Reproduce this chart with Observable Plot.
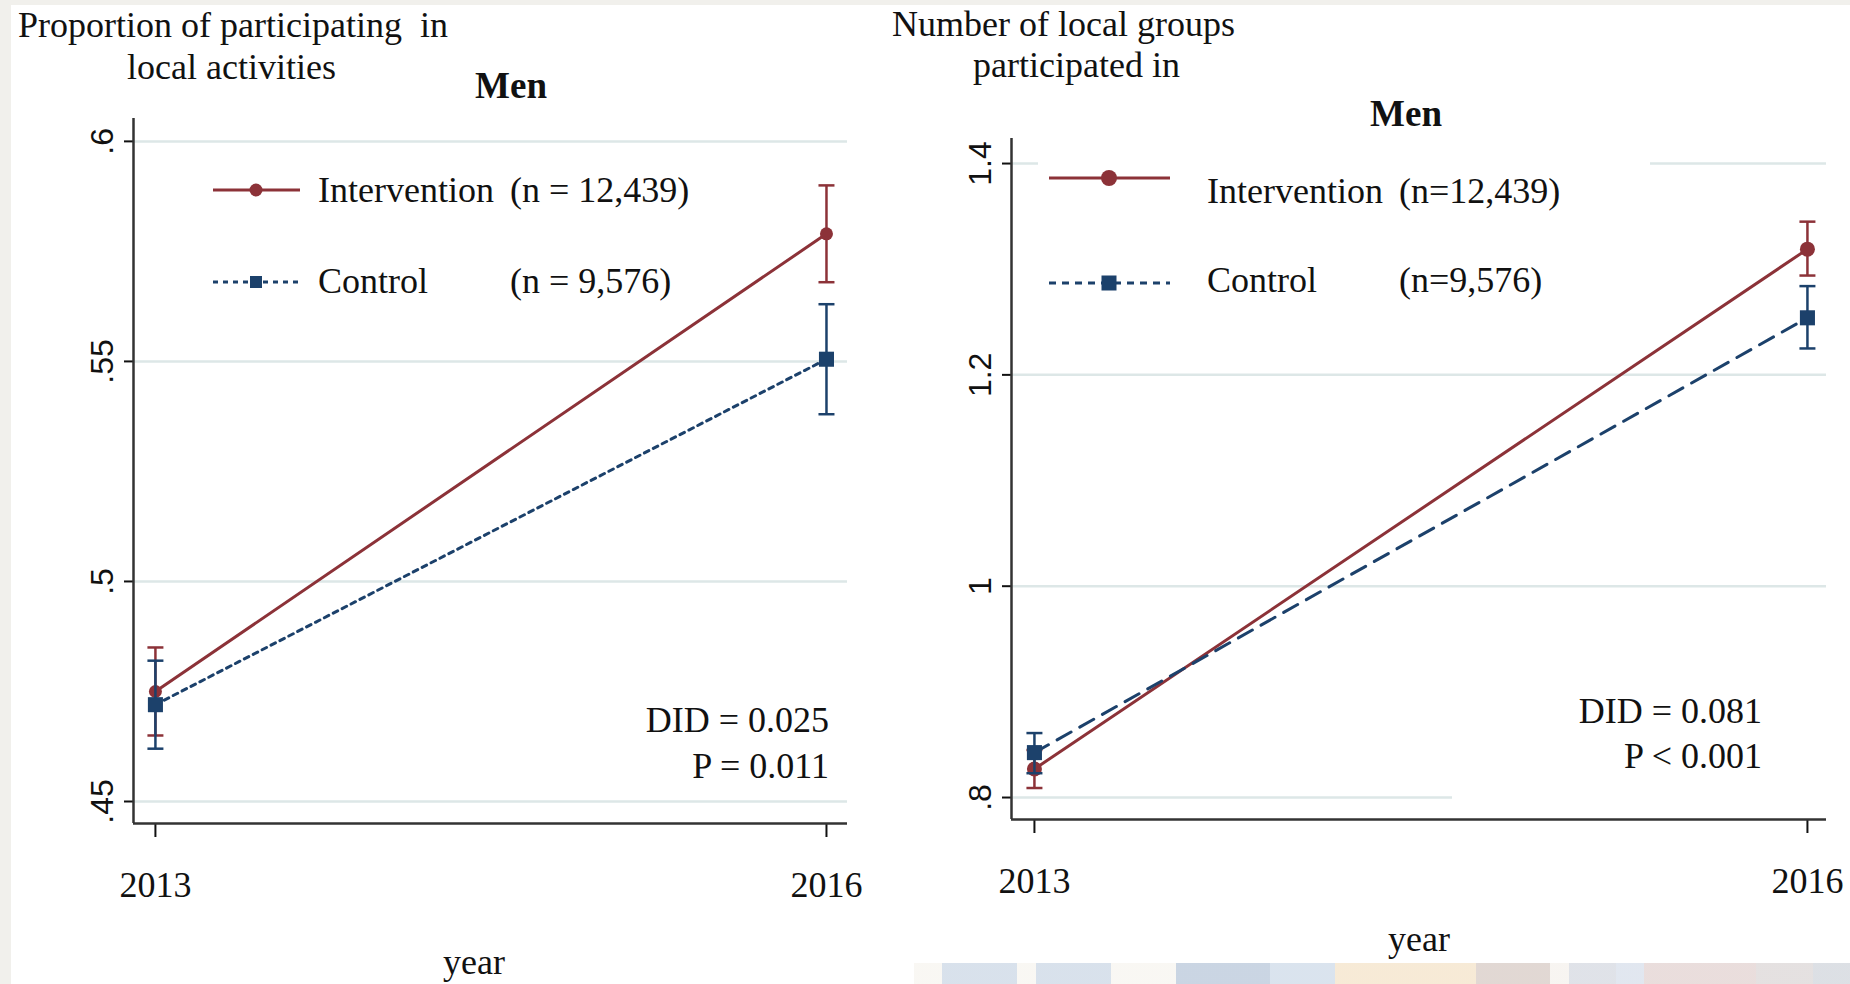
<!DOCTYPE html>
<html>
<head>
<meta charset="utf-8">
<script src="https://cdn.jsdelivr.net/npm/d3@7"></script>
<script src="https://cdn.jsdelivr.net/npm/@observablehq/plot@0.6"></script>
<style>
  html, body { margin: 0; padding: 0; background: #fff; }
  #page { position: relative; width: 1850px; height: 984px; overflow: hidden; background: #fff;
          font-family: "Liberation Serif", "Times New Roman", serif; }
  .panel { position: absolute; top: 0; }
  #left { left: 0; }
  #right { left: 925px; }
  #overlay { position: absolute; left: 0; top: 0; pointer-events: none; }
  .band-top { position: absolute; left: 0; top: 0; width: 1850px; height: 5px; background: #f1f0ec; }
  .band-left { position: absolute; left: 0; top: 0; width: 11px; height: 984px; background: #f1f0ec; }
  .band-bottom { position: absolute; left: 914px; top: 963px; width: 936px; height: 21px; opacity: 0.55;
    background: linear-gradient(90deg, #f4f1ea 0 3%, #b9c9dc 3% 11%, #f4f1ea 11% 13%, #b9c9dc 13% 21%,
      #f4f1ea 21% 28%, #9fb3cc 28% 38%, #bccde0 38% 45%, #f0d9b5 45% 60%, #c9b8b0 60% 68%, #f1ece6 68% 70%,
      #c6cbd6 70% 75%, #c9d3e3 75% 78%, #d8c2c0 78% 90%, #cfc8c8 90% 96%, #c0c6cf 96% 100%); }
</style>
</head>
<body>
<div id="page">
  <div class="band-top"></div>
  <div class="band-left"></div>
  <div class="band-bottom"></div>
  <div id="left" class="panel"></div>
  <div id="right" class="panel"></div>
</div>
<script>
// Survey years on the x axis
const years = [2013, 2016];
const groupNames = ["Intervention", "Control"];

// Left panel: proportion participating in local activities (means with 95% CI)
const propIntervention   = [0.475, 0.579];
const propInterventionLo = [0.465, 0.568];
const propInterventionHi = [0.485, 0.590];
const propControl        = [0.472, 0.5505];
const propControlLo      = [0.462, 0.538];
const propControlHi      = [0.482, 0.563];
const propTicks = [0.45, 0.5, 0.55, 0.6];

// Right panel: number of local groups participated in (means with 95% CI)
const numIntervention   = [0.827, 1.319];
const numInterventionLo = [0.809, 1.294];
const numInterventionHi = [0.845, 1.345];
const numControl        = [0.8425, 1.254];
const numControlLo      = [0.823, 1.225];
const numControlHi      = [0.861, 1.284];
const numTicks = [0.8, 1, 1.2, 1.4];

// Text shown on each panel
const leftTitle  = ["Proportion of participating\u00a0 in", "local activities"];
const rightTitle = ["Number of local groups", "participated in"];
const subgroup = "Men";
const leftN  = ["(n = 12,439)", "(n = 9,576)"];
const rightN = ["(n=12,439)", "(n=9,576)"];
const leftStats  = ["DID = 0.025", "P = 0.011"];
const rightStats = ["DID = 0.081", "P < 0.001"];
const xTitle = "year";

const maroon = "#8c3238";
const navy = "#1c416b";
const gridColor = "#dde7e7";
const axisColor = "#333";

const fmtTick = d => String(d).replace(/^0\./, ".");

// horizontal whisker cap as a dot symbol (half-width = r)
const capSymbol = {
  draw(ctx, size) {
    const r = Math.sqrt(size / Math.PI);
    ctx.moveTo(-r, 0);
    ctx.lineTo(r, 0);
  }
};

const rows = (vals, lo, hi) => years.map((year, i) => ({year, value: vals[i], lo: lo[i], hi: hi[i]}));

function seriesMarks(data, color, dash, symbol, r) {
  return [
    Plot.ruleX(data, {x: "year", y1: "lo", y2: "hi", stroke: color, strokeWidth: 2.5}),
    Plot.dot(data, {x: "year", y: "lo", symbol: capSymbol, r: 8, stroke: color, strokeWidth: 2.5}),
    Plot.dot(data, {x: "year", y: "hi", symbol: capSymbol, r: 8, stroke: color, strokeWidth: 2.5}),
    Plot.line(data, {x: "year", y: "value", stroke: color, strokeWidth: 3, strokeDasharray: dash}),
    Plot.dot(data, {x: "year", y: "value", symbol, r, fill: color, stroke: "none"})
  ];
}

function panel({width, height, margin, xDomain, yDomain, yTicks, inter, ctrl, ctrlDash, dotR, squareR}) {
  return Plot.plot({
    width, height,
    marginTop: margin[0], marginRight: margin[1], marginBottom: margin[2], marginLeft: margin[3],
    x: {domain: xDomain, axis: null},
    y: {domain: yDomain, axis: null},
    style: {background: "transparent", overflow: "visible"},
    marks: [
      Plot.ruleY(yTicks, {stroke: gridColor, strokeWidth: 2.5}),
      Plot.axisY({ticks: yTicks, tickFormat: fmtTick, tickSize: 9, tickPadding: 12, tickRotate: -90,
        fontSize: 32, fontFamily: "Liberation Sans", color: "#111", strokeWidth: 2, label: null}),
      Plot.axisX({ticks: years, tickFormat: d => String(d), tickSize: 14, tickPadding: 34,
        fontSize: 36, fontFamily: "Liberation Serif", color: "#111", strokeWidth: 2, label: null}),
      Plot.ruleX([xDomain[0]], {stroke: axisColor, strokeWidth: 2.5}),
      Plot.ruleY([yDomain[0]], {stroke: axisColor, strokeWidth: 2.5}),
      ...seriesMarks(inter, maroon, null, "circle", dotR),
      ...seriesMarks(ctrl, navy, ctrlDash, "square", squareR)
    ]
  });
}

document.getElementById("left").append(panel({
  width: 925, height: 984, margin: [118, 78, 161, 133],
  xDomain: [2012.902, 2016.094], yDomain: [0.445, 0.6052], yTicks: propTicks,
  inter: rows(propIntervention, propInterventionLo, propInterventionHi),
  ctrl: rows(propControl, propControlLo, propControlHi),
  ctrlDash: "5,5", dotR: 6.5, squareR: 8.5
}));

document.getElementById("right").append(panel({
  width: 925, height: 984, margin: [138, 24, 165, 86],
  xDomain: [2012.911, 2016.074], yDomain: [0.7792, 1.4237], yTicks: numTicks,
  inter: rows(numIntervention, numInterventionLo, numInterventionHi),
  ctrl: rows(numControl, numControlLo, numControlHi),
  ctrlDash: "16,10", dotR: 7.5, squareR: 8.5
}));

// Titles, legends and test statistics drawn on top of both panels
const svg = d3.select("#page").append("svg")
  .attr("id", "overlay").attr("width", 1850).attr("height", 984)
  .attr("font-family", "Liberation Serif, Times New Roman, serif").attr("fill", "#111");

function text(x, y, str, opts = {}) {
  const t = svg.append("text").attr("x", x).attr("y", y).text(str)
    .attr("font-size", opts.size || 36)
    .attr("text-anchor", opts.anchor || "start");
  if (opts.bold) t.attr("font-weight", "bold");
  return t;
}

// left panel text
text(18, 37, leftTitle[0]);
text(127, 79, leftTitle[1]);
text(511, 98, subgroup, {bold: true, anchor: "middle", size: 37});
text(829, 732, leftStats[0], {anchor: "end"});
text(829, 778, leftStats[1], {anchor: "end"});
text(474, 974, xTitle, {anchor: "middle"});

// right panel text
text(892, 36, rightTitle[0]);
text(973, 77, rightTitle[1]);
text(1406, 126, subgroup, {bold: true, anchor: "middle", size: 37});
svg.append("rect").attr("x", 1452).attr("y", 688).attr("width", 380).attr("height", 113).attr("fill", "#fff");
text(1762, 723, rightStats[0], {anchor: "end"});
text(1762, 768, rightStats[1], {anchor: "end"});
text(1419, 951, xTitle, {anchor: "middle"});

// legend: sample line, marker and labels for each group
function legend({x0, x1, xm, rowsY, textY, xName, xN, nLabels, ctrlDash, dotR, sq, box}) {
  if (box) svg.append("rect").attr("x", box[0]).attr("y", box[1]).attr("width", box[2]).attr("height", box[3]).attr("fill", "#fff");
  const styles = [{color: maroon, dash: null}, {color: navy, dash: ctrlDash}];
  groupNames.forEach((name, i) => {
    const y = rowsY[i];
    svg.append("line").attr("x1", x0).attr("x2", x1).attr("y1", y).attr("y2", y)
      .attr("stroke", styles[i].color).attr("stroke-width", 3)
      .attr("stroke-dasharray", styles[i].dash);
    if (i === 0) svg.append("circle").attr("cx", xm).attr("cy", y).attr("r", dotR).attr("fill", maroon);
    else svg.append("rect").attr("x", xm - sq / 2).attr("y", y - sq / 2).attr("width", sq).attr("height", sq).attr("fill", navy);
    text(xName, textY[i], name);
    text(xN, textY[i], nLabels[i]);
  });
}

legend({x0: 213, x1: 300, xm: 256, rowsY: [190, 282], textY: [202, 293], xName: 318, xN: 510,
  nLabels: leftN, ctrlDash: "5,5", dotR: 6.5, sq: 12});
legend({x0: 1049, x1: 1170, xm: 1109, rowsY: [178, 283], textY: [203, 292], xName: 1207, xN: 1399,
  nLabels: rightN, ctrlDash: "7,6", dotR: 8, sq: 15, box: [1038, 150, 612, 160]});
</script>
</body>
</html>
